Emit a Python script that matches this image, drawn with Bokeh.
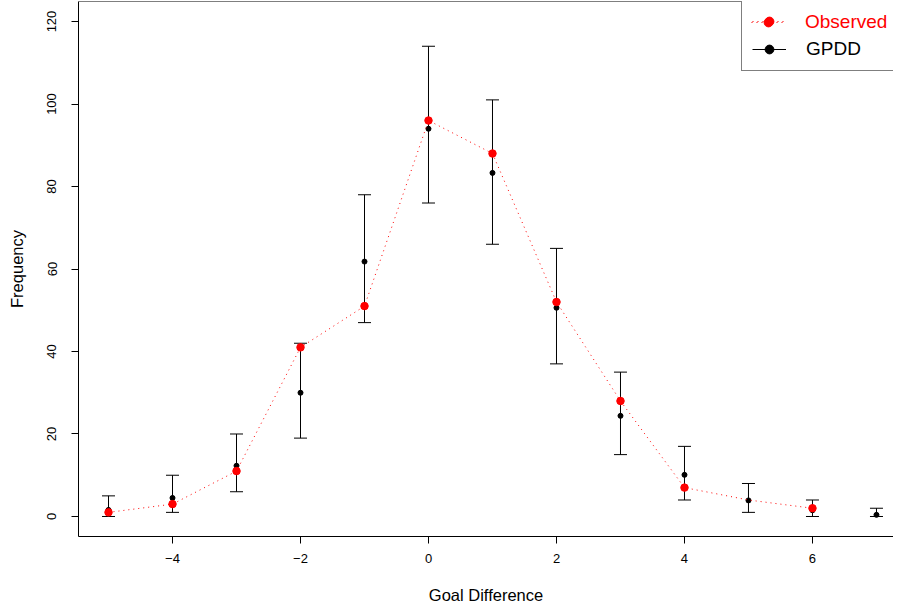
from bokeh.plotting import figure
from bokeh.models import Range1d, FixedTicker, Span, Legend, LegendItem, ColumnDataSource
from bokeh.embed import file_html
from bokeh.resources import INLINE

# ---- data ----
goal_diff = [-5, -4, -3, -2, -1, 0, 1, 2, 3, 4, 5, 6, 7]
gpdd_fit = [1.6, 4.5, 12.3, 30.0, 61.8, 94.0, 83.3, 50.6, 24.4, 10.1, 3.9, 1.5, 0.4]
gpdd_lower = [0, 1, 6, 19, 47, 76, 66, 37, 15, 4, 1, 0, 0]
gpdd_upper = [5, 10, 20, 42, 78, 114, 101, 65, 35, 17, 8, 4, 2]

obs_x = [-5, -4, -3, -2, -1, 0, 1, 2, 3, 4, 5, 6]
obs_freq = [1, 3, 11, 41, 51, 96, 88, 52, 28, 7, 4, 2]
obs_unmarked = [5]  # no red point drawn at this goal difference

x_ticks = [-4, -2, 0, 2, 4, 6]
x_tick_labels = ["\u22124", "\u22122", "0", "2", "4", "6"]
y_ticks = [0, 20, 40, 60, 80, 100, 120]

FONT = "Liberation Sans"

p = figure(width=893, height=606,
           x_range=Range1d(-5.469, 7.266), y_range=Range1d(-4.85, 124.85),
           output_backend="svg", toolbar_location=None,
           min_border_left=78, min_border_right=0, min_border_top=1, min_border_bottom=70)
p.grid.visible = False
p.outline_line_color = None
p.background_fill_color = "white"
p.border_fill_color = "white"

gpdd_src = ColumnDataSource(dict(x=goal_diff, fit=gpdd_fit, lo=gpdd_lower, hi=gpdd_upper))
obs_src = ColumnDataSource(dict(x=obs_x, y=obs_freq))
mx = [x for x in obs_x if x not in obs_unmarked]
my = [y for x, y in zip(obs_x, obs_freq) if x not in obs_unmarked]
obs_pt_src = ColumnDataSource(dict(x=mx, y=my))

# GPDD error bars and points
bars = p.segment(x0="x", y0="lo", x1="x", y1="hi", source=gpdd_src, line_color="black", line_width=1)
p.scatter(x="x", y="lo", source=gpdd_src, marker="dash", size=13, line_color="black", line_width=1)
p.scatter(x="x", y="hi", source=gpdd_src, marker="dash", size=13, line_color="black", line_width=1)
gpdd_pts = p.scatter(x="x", y="fit", source=gpdd_src, marker="circle", size=5,
                     fill_color="black", line_color="black")

# Observed
obs_line = p.line(x="x", y="y", source=obs_src, line_color="#FF0000", line_width=1, line_dash="1 4")
obs_pts = p.scatter(x="x", y="y", source=obs_pt_src, marker="circle", size=7.5,
                    fill_color="#FF0000", line_color="#FF0000")

# Axes
p.xaxis.ticker = FixedTicker(ticks=x_ticks)
p.xaxis.major_label_overrides = {t: l for t, l in zip(x_ticks, x_tick_labels)}
p.yaxis.ticker = FixedTicker(ticks=y_ticks)
p.yaxis.major_label_orientation = "vertical"
for ax in (p.xaxis[0], p.yaxis[0]):
    ax.axis_line_color = "black"
    ax.axis_line_width = 1
    ax.major_tick_line_color = "black"
    ax.major_tick_out = 7
    ax.major_tick_in = 0
    ax.minor_tick_out = 0
    ax.minor_tick_in = 0
    ax.major_label_text_font = FONT
    ax.major_label_text_font_size = "13px"
    ax.major_label_text_color = "black"
    ax.axis_label_text_font = FONT
    ax.axis_label_text_font_size = "16.5px"
    ax.axis_label_text_font_style = "normal"
    ax.axis_label_text_color = "black"
p.xaxis.axis_label = "Goal Difference"
p.yaxis.axis_label = "Frequency"
p.xaxis.major_label_standoff = 10
p.xaxis.axis_label_standoff = 20
p.yaxis.major_label_standoff = 15
p.yaxis.axis_label_standoff = 19

# top edge of the plot box
p.add_layout(Span(location=p.y_range.end, dimension="width", line_color="black", line_width=1))

# legend box runs past the right edge, as in the reference
common = dict(spacing=6, margin=0,
              glyph_width=34, glyph_height=22, label_height=22, label_width=84,
              label_standoff=20, label_text_font=FONT, label_text_font_size="19px")
leg1 = Legend(items=[LegendItem(label=" ", renderers=[obs_line, obs_pts]),
                     LegendItem(label="GPDD", renderers=[bars, gpdd_pts])],
              location=(663, 465), padding=10,
              border_line_color="black", border_line_width=1,
              background_fill_color="white", background_fill_alpha=1.0,
              label_text_color="black", **common)
leg2 = Legend(items=[LegendItem(label="Observed", renderers=[obs_line, obs_pts])],
              location=(673, 503), padding=0,
              border_line_color=None, background_fill_alpha=0.0,
              label_text_color="#FF0000", **common)
p.add_layout(leg1)
p.add_layout(leg2)

open("out.html", "w").write(file_html(p, INLINE))
